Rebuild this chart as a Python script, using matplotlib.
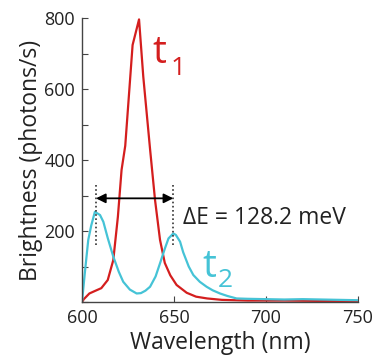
import numpy as np
import matplotlib
matplotlib.use('Agg')
import matplotlib.pyplot as plt

plt.rcParams['font.family'] = ['Open Sans', 'DejaVu Sans']

# Spectra (wavelength nm, brightness photons/s)
wl_t1 = [600, 601, 604, 607, 610.5, 614, 617, 619.5, 621.5, 623.5, 627.5, 631,
         633.3, 637, 639.7, 642.4, 645, 648, 651.4, 656.9, 662, 668, 676, 690,
         710, 730, 750]
br_t1 = [0, 8, 24, 31, 39, 62, 118, 240, 372, 440, 724, 796,
         635, 430, 287, 175, 110, 75, 48, 26, 15, 10, 6, 4,
         4, 3, 2]

wl_t2 = [600, 601.5, 603.4, 605, 607, 609.8, 611.6, 614, 617, 620, 622.4, 626,
         629.7, 632, 634.5, 637, 640, 642.4, 645, 647, 649.6, 651, 653.3, 655,
         658, 660.5, 664, 667.7, 671, 675, 679, 684, 690, 700, 710, 720, 730,
         740, 750]
br_t2 = [0, 80, 175, 215, 254, 245, 226, 180, 128, 85, 57, 35,
         24, 25, 32, 43, 72, 109, 150, 179, 193, 189, 170, 140,
         100, 76, 57, 43, 33, 24, 17, 10, 9, 8, 7, 8, 7,
         6, 5]

peak_left = 607.6
peak_right = 649.6
delta_e = 128.2

red = '#d41e1e'
cyan = '#45c3d6'

fig = plt.figure(figsize=(3.75, 3.57), dpi=100)
ax = fig.add_axes([82 / 375, 1 - 302 / 357, 276 / 375, 284 / 357])

ax.plot(wl_t1, br_t1, color=red, lw=1.6)
ax.plot(wl_t2, br_t2, color=cyan, lw=1.6)

# dotted markers at the two t2 peaks and the arrow between them
for x in (peak_left, peak_right):
    ax.plot([x, x], [160, 330], color='#333333', lw=1.2, ls=(0, (1, 1.5)))
ax.annotate('', xy=(peak_left, 292), xytext=(peak_right, 292),
            arrowprops=dict(arrowstyle='<|-|>', color='black', lw=1.3,
                            mutation_scale=14, shrinkA=0, shrinkB=0))
ax.text(655, 236, f'ΔE = {delta_e} meV', fontsize=16.5, va='center', ha='left',
        color='#222222')

# curve labels
ax.text(638, 672, 't', fontsize=28, color=red, ha='left', va='baseline')
ax.text(648, 640, '1', fontsize=19, color=red, ha='left', va='baseline')
ax.text(665.3, 71, 't', fontsize=28, color=cyan, ha='left', va='baseline')
ax.text(674, 43, '2', fontsize=19, color=cyan, ha='left', va='baseline')

ax.set_xlim(600, 750)
ax.set_ylim(0, 800)
ax.set_xticks([600, 650, 700, 750])
ax.set_yticks(np.arange(0, 801, 100))
ax.set_yticklabels(['' if v % 200 or v == 0 else str(v) for v in range(0, 801, 100)])
ax.tick_params(direction='in', length=4, width=0.8, color='#444444',
               labelsize=13, labelcolor='#222222', pad=5)

for s in ('top', 'right'):
    ax.spines[s].set_visible(False)
for s in ('left', 'bottom'):
    ax.spines[s].set_color('#444444')
    ax.spines[s].set_linewidth(1)

ax.set_xlabel('Wavelength (nm)', fontsize=16.5, color='#222222', labelpad=3)
ax.set_ylabel('Brightness (photons/s)', fontsize=16.5, color='#222222', labelpad=1)

fig.savefig('out.png', dpi=100)
